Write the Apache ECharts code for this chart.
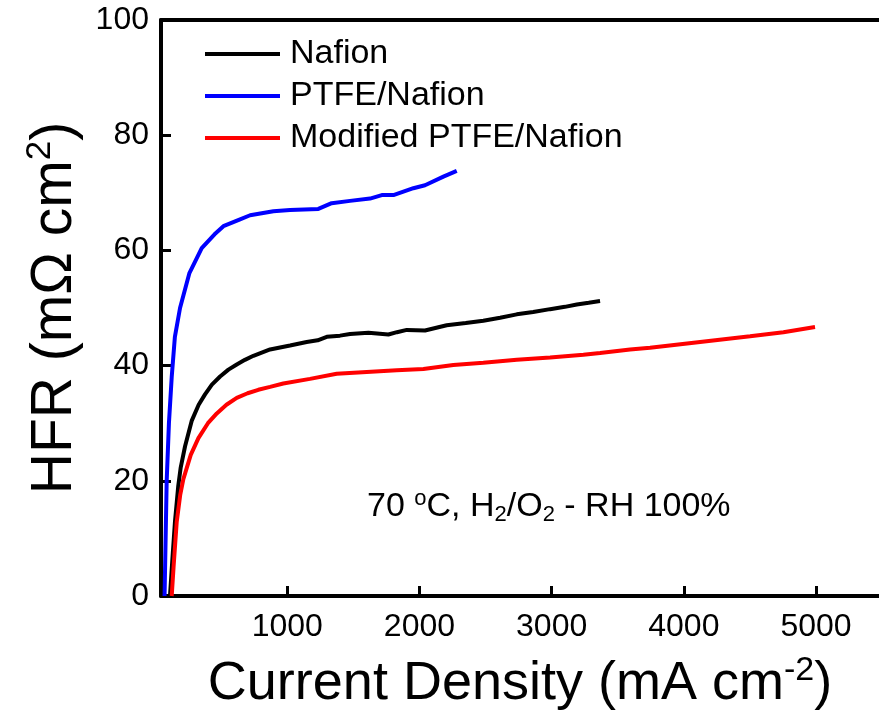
<!DOCTYPE html>
<html>
<head>
<meta charset="utf-8">
<script src="https://cdn.jsdelivr.net/npm/echarts@6/dist/echarts.min.js"></script>
<style>
  html, body { margin: 0; padding: 0; background: #fff; }
  #hfr_chart { width: 879px; height: 716px; }
</style>
</head>
<body>
<div id="hfr_chart"></div>
<script>
// current density (mA cm-2) and HFR (mOhm cm2)
const nafionX = [113, 130, 151, 175, 194, 227, 277, 330, 378, 430, 492, 555, 618, 680, 744, 870, 1021, 1147, 1230, 1299, 1399, 1475, 1614, 1765, 1830, 1904, 2042, 2206, 2350, 2483, 2610, 2736, 2860, 2988, 3100, 3190, 3280, 3366];
const nafionY = [0, 6, 13, 19, 22.3, 26, 30.4, 33.2, 35, 36.7, 38.1, 39.3, 40.2, 41, 41.7, 42.8, 43.5, 44.1, 44.4, 45.0, 45.2, 45.5, 45.7, 45.4, 45.8, 46.2, 46.1, 47.0, 47.4, 47.8, 48.3, 48.9, 49.3, 49.8, 50.2, 50.6, 50.9, 51.2];

const ptfeX = [72, 88, 105, 126, 150, 189, 259, 353, 450, 517, 643, 719, 895, 1021, 1235, 1336, 1475, 1626, 1715, 1803, 1954, 2042, 2181, 2282];
const ptfeY = [0, 20, 30, 38, 45, 50, 56, 60.4, 62.8, 64.2, 65.4, 66.1, 66.8, 67.0, 67.2, 68.2, 68.6, 69.0, 69.6, 69.6, 70.8, 71.3, 72.8, 73.8];

const modX = [126, 140, 164, 190, 214, 270, 328, 400, 467, 540, 618, 700, 781, 870, 970, 1172, 1374, 1601, 1828, 2030, 2256, 2483, 2736, 2988, 3240, 3366, 3593, 3744, 4123, 4501, 4753, 4992];
const modY = [0, 5, 12.9, 17.5, 20.3, 24.5, 27.4, 30, 31.7, 33.2, 34.4, 35.2, 35.8, 36.3, 36.9, 37.7, 38.6, 38.9, 39.2, 39.4, 40.1, 40.5, 41.0, 41.4, 41.9, 42.2, 42.8, 43.1, 44.1, 45.1, 45.8, 46.7];

const seriesNames = ['Nafion', 'PTFE/Nafion', 'Modified PTFE/Nafion'];
const seriesColors = ['#000000', '#0000ff', '#ff0000'];
const xTicks = [1000, 2000, 3000, 4000, 5000];
const xMin = 45, xMax = 5476;

const FONT = "'Liberation Sans', Arial, sans-serif";

function pairs(xs, ys) {
    return xs.map((x, i) => [x, ys[i]]);
}

const chart = echarts.init(document.getElementById('hfr_chart'), null, { renderer: 'canvas' });

const option = {
    animation: false,
    backgroundColor: '#fff',
    textStyle: { fontFamily: FONT, color: '#000' },
    grid: { left: 161, right: 0, top: 20, bottom: 116 },
    title: {
        // 70 oC, H2/O2 - RH 100%
        text: '{m|70 }{sup|o}{m|C, H}{sub|2}{m|/O}{sub|2}{m| - RH 100%}',
        left: 367,
        top: 488,
        padding: 0,
        textStyle: {
            fontWeight: 'normal',
            rich: {
                m: { fontSize: 34, lineHeight: 38, fontWeight: 'normal', fontFamily: FONT, color: '#000' },
                sup: { fontSize: 22, lineHeight: 20, verticalAlign: 'top', fontWeight: 'normal', fontFamily: FONT, color: '#000' },
                sub: { fontSize: 22, lineHeight: 20, verticalAlign: 'bottom', fontWeight: 'normal', fontFamily: FONT, color: '#000' }
            }
        }
    },
    legend: {
        orient: 'vertical',
        left: 205,
        top: 37,
        padding: 0,
        itemGap: 8,
        itemWidth: 75,
        itemHeight: 4,
        icon: 'rect',
        data: seriesNames,
        textStyle: { fontSize: 34, lineHeight: 34, fontFamily: FONT, color: '#000', padding: [0, 0, 0, 5] }
    },
    xAxis: [
        {
            type: 'value',
            min: xMin,
            max: xMax,
            name: '{m|Current Density (mA cm}{sup|-2}{m|)}',
            nameLocation: 'middle',
            nameGap: 58,
            nameTextStyle: {
                rich: {
                    m: { fontSize: 54, lineHeight: 60, fontFamily: FONT, color: '#000' },
                    sup: { fontSize: 34, lineHeight: 16, verticalAlign: 'top', fontFamily: FONT, color: '#000' }
                }
            },
            axisLine: { show: true, onZero: false, lineStyle: { color: '#000', width: 4 } },
            axisTick: { show: true, inside: true, length: 10, customValues: xTicks, lineStyle: { color: '#000', width: 3 } },
            axisLabel: {
                show: true,
                customValues: xTicks,
                margin: 15,
                fontSize: 32,
                color: '#000',
                fontFamily: FONT,
                formatter: function (v) { return String(v); }
            },
            splitLine: { show: false }
        },
        {
            type: 'value',
            position: 'top',
            min: xMin,
            max: xMax,
            axisLine: { show: true, onZero: false, lineStyle: { color: '#000', width: 4 } },
            axisTick: { show: false },
            axisLabel: { show: false },
            splitLine: { show: false }
        }
    ],
    yAxis: {
        type: 'value',
        min: 0,
        max: 100,
        interval: 20,
        name: '{m|HFR (mΩ cm}{sup|2}{m|)}',
        nameLocation: 'middle',
        nameGap: 74,
        nameTextStyle: {
            rich: {
                m: { fontSize: 57, lineHeight: 64, fontFamily: FONT, color: '#000' },
                sup: { fontSize: 35, lineHeight: 20, verticalAlign: 'top', fontFamily: FONT, color: '#000' }
            }
        },
        axisLine: { show: true, onZero: false, lineStyle: { color: '#000', width: 4 } },
        axisTick: { show: true, inside: true, length: 10, lineStyle: { color: '#000', width: 3 } },
        axisLabel: { margin: 12, fontSize: 32, color: '#000', fontFamily: FONT },
        splitLine: { show: false }
    },
    series: [
        { name: seriesNames[0], data: pairs(nafionX, nafionY) },
        { name: seriesNames[1], data: pairs(ptfeX, ptfeY) },
        { name: seriesNames[2], data: pairs(modX, modY) }
    ].map((s, i) => ({
        name: s.name,
        type: 'line',
        xAxisIndex: 0,
        data: s.data,
        showSymbol: false,
        symbol: 'none',
        color: seriesColors[i],
        lineStyle: { color: seriesColors[i], width: 4 },
        itemStyle: { color: seriesColors[i] }
    }))
};

chart.setOption(option);
</script>
</body>
</html>
